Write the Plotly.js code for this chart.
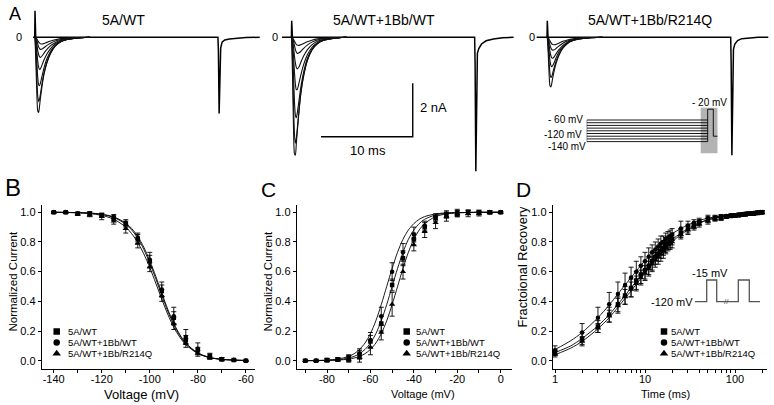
<!DOCTYPE html>
<html><head><meta charset="utf-8">
<script src="https://cdn.plot.ly/plotly-3.0.1.min.js"></script>
<style>html,body{margin:0;padding:0;background:#fff}#chart{width:774px;height:405px}</style>
</head><body><div id="chart"></div>
<script>
// ================= DATA =================
const seriesNames = ['5A/WT', '5A/WT+1Bb/WT', '5A/WT+1Bb/R214Q'];
const seriesSymbols = ['square', 'circle', 'triangle-up'];
const panelATitles = ['5A/WT', '5A/WT+1Bb/WT', '5A/WT+1Bb/R214Q'];

// Panel A: current families (time ms, current nA)
const A_T = [0, 0.1, 0.2, 0.3, 0.4, 0.5, 0.6, 0.8, 1.0, 1.3, 1.7, 2.2, 2.8, 3.5, 4.5, 6.0];
const A1_family = [
  [0, -1.0, -2.1, -2.75, -2.80, -2.55, -2.25, -1.75, -1.35, -0.95, -0.6, -0.33, -0.17, -0.08, -0.03, 0],
  [0, -0.6, -1.5, -2.2, -2.4, -2.3, -2.1, -1.65, -1.3, -0.92, -0.58, -0.33, -0.17, -0.08, -0.03, 0],
  [0, -0.3, -0.9, -1.5, -1.78, -1.8, -1.7, -1.4, -1.12, -0.8, -0.52, -0.3, -0.16, -0.08, -0.03, 0],
  [0, -0.15, -0.5, -0.9, -1.12, -1.2, -1.17, -1.0, -0.83, -0.62, -0.42, -0.25, -0.14, -0.07, -0.03, 0],
  [0, -0.08, -0.25, -0.5, -0.65, -0.73, -0.75, -0.68, -0.58, -0.45, -0.31, -0.2, -0.11, -0.06, -0.02, 0],
  [0, -0.04, -0.12, -0.25, -0.36, -0.42, -0.45, -0.43, -0.38, -0.3, -0.22, -0.14, -0.08, -0.04, -0.02, 0],
  [0, -0.02, -0.06, -0.12, -0.18, -0.22, -0.24, -0.25, -0.23, -0.19, -0.14, -0.09, -0.05, -0.03, -0.01, 0]
];
const A2_family = [
  [0, -1.6, -3.4, -4.35, -4.4, -4.0, -3.55, -2.75, -2.1, -1.45, -0.88, -0.48, -0.24, -0.11, -0.04, 0],
  [0, -1.0, -2.5, -3.6, -3.95, -3.8, -3.45, -2.7, -2.05, -1.42, -0.86, -0.47, -0.23, -0.11, -0.04, 0],
  [0, -0.5, -1.4, -2.4, -2.9, -3.0, -2.85, -2.35, -1.85, -1.3, -0.8, -0.45, -0.22, -0.1, -0.04, 0],
  [0, -0.25, -0.7, -1.3, -1.75, -1.95, -1.95, -1.7, -1.4, -1.02, -0.66, -0.38, -0.2, -0.09, -0.03, 0],
  [0, -0.12, -0.35, -0.7, -0.95, -1.12, -1.18, -1.1, -0.93, -0.7, -0.47, -0.28, -0.15, -0.07, -0.03, 0],
  [0, -0.05, -0.15, -0.3, -0.45, -0.55, -0.6, -0.58, -0.52, -0.41, -0.29, -0.18, -0.1, -0.05, -0.02, 0],
  [0, -0.02, -0.07, -0.14, -0.21, -0.26, -0.29, -0.3, -0.28, -0.23, -0.17, -0.11, -0.06, -0.03, -0.01, 0]
];
const A3_family = [
  [0, -0.6, -1.4, -1.82, -1.85, -1.7, -1.5, -1.18, -0.92, -0.65, -0.41, -0.23, -0.12, -0.06, -0.02, 0],
  [0, -0.35, -0.95, -1.38, -1.5, -1.45, -1.32, -1.07, -0.85, -0.61, -0.39, -0.22, -0.12, -0.06, -0.02, 0],
  [0, -0.18, -0.55, -0.9, -1.06, -1.1, -1.05, -0.9, -0.73, -0.53, -0.35, -0.2, -0.11, -0.05, -0.02, 0],
  [0, -0.1, -0.3, -0.55, -0.7, -0.77, -0.78, -0.7, -0.59, -0.45, -0.3, -0.18, -0.1, -0.05, -0.02, 0],
  [0, -0.05, -0.15, -0.3, -0.4, -0.46, -0.48, -0.46, -0.4, -0.32, -0.22, -0.14, -0.08, -0.04, -0.01, 0],
  [0, -0.02, -0.07, -0.14, -0.2, -0.25, -0.27, -0.28, -0.26, -0.21, -0.15, -0.1, -0.06, -0.03, -0.01, 0]
];
// baseline + capacitive spike + test-pulse current
const A1_baseT = [-0.22, -0.03, 0.0, 0.04, 0.08, 19.95, 20.0, 20.08, 20.15, 20.25, 20.4, 20.7, 21.2, 22.0, 23.0, 24.5];
const A1_baseI = [0, 0, 0.99, 0.1, 0, 0, -0.5, -2.84, -1.2, -0.4, -0.18, -0.1, -0.06, -0.03, -0.01, 0];
const A2_baseT = [-1.06, -0.03, 0.0, 0.04, 0.08, 19.95, 20.0, 20.08, 20.15, 20.25, 20.4, 20.7, 21.2, 22.0, 23.0, 24.2];
const A2_baseI = [0, 0, 0.62, 0.1, 0, 0, -1.0, -5.0, -2.0, -0.6, -0.42, -0.25, -0.13, -0.06, -0.02, 0];
const A3_baseT = [-1.16, -0.03, 0.0, 0.04, 0.08, 20.0, 20.05, 20.13, 20.2, 20.3, 20.45, 20.75, 21.2, 22.0, 23.0, 24.1];
const A3_baseI = [0, 0, 0.62, 0.1, 0, 0, -1.0, -4.4, -1.6, -0.45, -0.25, -0.12, -0.05, -0.02, 0, 0];
// scale bar (10 ms, 2 nA) in panel A2 units
const scaleBarT = [3.2, 13.2, 13.2];
const scaleBarI = [-3.71, -3.71, -1.71];
// voltage protocol inset in A3 (schematic time units, mV)
const protoPrepulseV = [-60, -70, -80, -90, -100, -110, -120, -130, -140];
const protoTimes = [0, 121, 126.6, 131];
const protoTestV = -20;
const protoHoldV = -120;

// Panel B: steady-state inactivation
const B_V = [-140, -135, -130, -125, -120, -115, -110, -105, -100, -95, -90, -85, -80, -75, -70, -65, -60];
const B_sq = [1.0, 1.0, 0.99, 0.99, 0.98, 0.96, 0.92, 0.82, 0.67, 0.47, 0.29, 0.14, 0.07, 0.03, 0.01, 0.005, 0.0];
const B_circ = [1.0, 1.0, 0.99, 0.99, 0.98, 0.97, 0.93, 0.83, 0.68, 0.48, 0.30, 0.16, 0.08, 0.03, 0.01, 0.005, 0.0];
const B_tri = [1.0, 1.0, 0.99, 0.98, 0.97, 0.94, 0.89, 0.79, 0.63, 0.44, 0.25, 0.12, 0.05, 0.02, 0.01, 0.005, 0.0];
const B_sqErr = [0.005, 0.005, 0.01, 0.01, 0.01, 0.015, 0.02, 0.03, 0.04, 0.04, 0.04, 0.03, 0.02, 0.015, 0.01, 0.005, 0.003];
const B_circErr = [0.005, 0.005, 0.01, 0.015, 0.015, 0.015, 0.02, 0.03, 0.05, 0.05, 0.06, 0.05, 0.04, 0.02, 0.01, 0.005, 0.003];
const B_triErr = [0.005, 0.005, 0.01, 0.01, 0.02, 0.02, 0.03, 0.03, 0.03, 0.04, 0.04, 0.03, 0.02, 0.01, 0.01, 0.005, 0.003];
const B_fitV = [-140, -135, -130, -125, -120, -115, -110, -107.5, -105, -102.5, -100, -97.5, -95, -92.5, -90, -87.5, -85, -80, -75, -70, -65, -60];
const B_fitSq = [1.0, 0.999, 0.997, 0.994, 0.985, 0.965, 0.920, 0.880, 0.825, 0.750, 0.658, 0.552, 0.440, 0.333, 0.241, 0.169, 0.115, 0.050, 0.021, 0.009, 0.004, 0.0015];
const B_fitCirc = [1.0, 0.999, 0.998, 0.995, 0.987, 0.969, 0.927, 0.890, 0.837, 0.765, 0.674, 0.568, 0.455, 0.346, 0.251, 0.176, 0.119, 0.052, 0.022, 0.009, 0.004, 0.001];
const B_fitTri = [1.0, 0.999, 0.996, 0.991, 0.979, 0.953, 0.900, 0.855, 0.796, 0.720, 0.627, 0.522, 0.414, 0.312, 0.225, 0.158, 0.108, 0.048, 0.020, 0.009, 0.004, 0.0015];

// Panel C: activation
const C_V = [-90, -85, -80, -75, -70, -65, -60, -55, -50, -45, -40, -35, -30, -25, -20, -15, -10, -5, 0];
const C_circ = [0, 0, 0.005, 0.01, 0.02, 0.05, 0.14, 0.30, 0.60, 0.73, 0.85, 0.91, 0.97, 0.99, 1.0, 1.0, 1.0, 1.0, 1.0];
const C_sq = [0, 0, 0.005, 0.01, 0.015, 0.04, 0.13, 0.25, 0.51, 0.69, 0.82, 0.90, 0.96, 0.98, 0.99, 1.0, 1.0, 1.0, 1.0];
const C_tri = [0, 0, 0, 0.005, 0.01, 0.02, 0.09, 0.19, 0.38, 0.60, 0.78, 0.87, 0.93, 0.97, 0.99, 0.99, 0.99, 1.0, 1.0];
const C_circErr = [0.005, 0.005, 0.01, 0.01, 0.02, 0.03, 0.05, 0.06, 0.06, 0.06, 0.05, 0.03, 0.02, 0.02, 0.02, 0.015, 0.015, 0.01, 0.005];
const C_sqErr = [0.005, 0.005, 0.01, 0.01, 0.02, 0.03, 0.04, 0.05, 0.04, 0.05, 0.04, 0.03, 0.02, 0.02, 0.02, 0.015, 0.01, 0.01, 0.005];
const C_triErr = [0.005, 0.005, 0.01, 0.01, 0.02, 0.03, 0.05, 0.05, 0.08, 0.05, 0.04, 0.04, 0.04, 0.03, 0.02, 0.02, 0.015, 0.01, 0.005];
const C_fitV = [-90, -85, -80, -75, -70, -67.5, -65, -62.5, -60, -57.5, -55, -52.5, -50, -47.5, -45, -42.5, -40, -37.5, -35, -30, -25, -20, -15, -10, -5, 0];
const C_fitCirc = [0.0006, 0.0015, 0.004, 0.011, 0.029, 0.047, 0.076, 0.119, 0.182, 0.269, 0.378, 0.5, 0.622, 0.731, 0.818, 0.881, 0.924, 0.953, 0.971, 0.989, 0.996, 0.998, 0.999, 1.0, 1.0, 1.0];
const C_fitSq = [0.0003, 0.0009, 0.0025, 0.0067, 0.018, 0.029, 0.047, 0.076, 0.119, 0.182, 0.269, 0.378, 0.5, 0.622, 0.731, 0.818, 0.881, 0.924, 0.953, 0.982, 0.993, 0.997, 0.999, 1.0, 1.0, 1.0];
const C_fitTri = [0.0002, 0.0006, 0.0015, 0.0041, 0.011, 0.018, 0.029, 0.047, 0.076, 0.119, 0.182, 0.269, 0.378, 0.5, 0.622, 0.731, 0.818, 0.881, 0.924, 0.971, 0.989, 0.996, 0.998, 0.999, 1.0, 1.0];

// Panel D: recovery from inactivation
const D_t = [1, 2, 3, 4, 5, 6, 7, 8, 9, 10, 11, 12, 13, 14, 15, 16, 17, 18, 19, 20, 25, 30, 35, 40, 50, 60, 70, 80, 90, 100, 110, 120, 130, 140, 150, 160, 170, 180, 190, 200];
const D_circ = [0.07, 0.19, 0.29, 0.38, 0.45, 0.51, 0.56, 0.60, 0.64, 0.67, 0.70, 0.73, 0.75, 0.77, 0.79, 0.80, 0.82, 0.83, 0.84, 0.85, 0.89, 0.91, 0.93, 0.94, 0.96, 0.965, 0.97, 0.975, 0.98, 0.98, 0.985, 0.985, 0.99, 0.99, 0.99, 0.995, 0.995, 1.0, 1.0, 1.0];
const D_sq = [0.055, 0.15, 0.23, 0.31, 0.38, 0.44, 0.49, 0.54, 0.58, 0.61, 0.64, 0.67, 0.70, 0.72, 0.74, 0.76, 0.78, 0.79, 0.80, 0.82, 0.86, 0.89, 0.91, 0.93, 0.95, 0.96, 0.965, 0.97, 0.975, 0.98, 0.98, 0.985, 0.985, 0.99, 0.99, 0.99, 0.995, 0.995, 1.0, 1.0];
const D_tri = [0.045, 0.13, 0.22, 0.30, 0.37, 0.43, 0.48, 0.52, 0.56, 0.59, 0.62, 0.65, 0.68, 0.70, 0.72, 0.74, 0.76, 0.78, 0.79, 0.80, 0.85, 0.88, 0.90, 0.92, 0.94, 0.955, 0.96, 0.97, 0.975, 0.975, 0.98, 0.985, 0.985, 0.99, 0.99, 0.99, 0.995, 0.995, 1.0, 1.0];
const D_circErr = [0.03, 0.06, 0.07, 0.08, 0.08, 0.08, 0.07, 0.07, 0.06, 0.06, 0.06, 0.05, 0.05, 0.05, 0.05, 0.04, 0.04, 0.04, 0.04, 0.04, 0.05, 0.03, 0.02, 0.02, 0.02, 0.015, 0.015, 0.01, 0.01, 0.01, 0.01, 0.01, 0.01, 0.01, 0.01, 0.01, 0.01, 0.01, 0.01, 0.01];
const D_sqErr = [0.02, 0.04, 0.04, 0.05, 0.05, 0.06, 0.06, 0.06, 0.06, 0.06, 0.06, 0.06, 0.05, 0.05, 0.05, 0.05, 0.05, 0.04, 0.04, 0.04, 0.03, 0.03, 0.02, 0.02, 0.02, 0.015, 0.015, 0.01, 0.01, 0.01, 0.01, 0.01, 0.01, 0.01, 0.01, 0.01, 0.01, 0.01, 0.01, 0.01];
const D_triErr = [0.02, 0.03, 0.03, 0.04, 0.05, 0.05, 0.05, 0.05, 0.05, 0.05, 0.05, 0.05, 0.05, 0.05, 0.05, 0.05, 0.04, 0.04, 0.04, 0.04, 0.03, 0.03, 0.02, 0.02, 0.02, 0.015, 0.015, 0.01, 0.01, 0.01, 0.01, 0.01, 0.01, 0.01, 0.01, 0.01, 0.01, 0.01, 0.01, 0.01];
const D_fitT = [1, 1.5, 2, 3, 4, 5, 6, 7, 8, 10, 12, 15, 20, 25, 30, 40, 50, 70, 100, 150, 210];
const D_fitCirc = [0.075, 0.135, 0.19, 0.29, 0.375, 0.45, 0.51, 0.56, 0.605, 0.675, 0.73, 0.79, 0.855, 0.89, 0.915, 0.945, 0.96, 0.975, 0.985, 0.993, 0.998];
const D_fitSq = [0.055, 0.10, 0.15, 0.235, 0.31, 0.38, 0.44, 0.49, 0.535, 0.61, 0.67, 0.74, 0.815, 0.86, 0.89, 0.93, 0.95, 0.97, 0.982, 0.991, 0.997];
const D_fitTri = [0.04, 0.085, 0.13, 0.215, 0.29, 0.36, 0.42, 0.47, 0.515, 0.59, 0.65, 0.72, 0.80, 0.85, 0.88, 0.925, 0.948, 0.968, 0.98, 0.99, 0.996];
// Inset protocol of D (schematic units, mV)
const protoD_t = [5, 16.7, 16.7, 26.7, 26.7, 48.3, 48.3, 59.3, 59.3, 70];
const protoD_v = [-120, -120, -15, -15, -120, -120, -15, -15, -120, -120];

// tick labels
const normTickVals = [0, 0.2, 0.4, 0.6, 0.8, 1.0];
const normTickText = ['0.0', '0.2', '0.4', '0.6', '0.8', '1.0'];
const B_tickVals = [-140, -120, -100, -80, -60];
const B_tickText = ['-140', '-120', '-100', '-80', '-60'];
const C_tickVals = [-80, -60, -40, -20, 0];
const C_tickText = ['-80', '-60', '-40', '-20', '0'];
const D_tickVals = [1, 10, 100];
const D_tickText = ['1', '10', '100'];

// ================= LAYOUT HELPERS =================
const W = 774, H = 405;
const FONT = 'Liberation Sans, Arial, Helvetica, sans-serif';
const fx = p => p / W;
const fy = p => 1 - p / H;
const xdom = (a, b) => [fx(a), fx(b)];
const ydom = (top, bot) => [fy(bot), fy(top)];

const traces = [];
const line = (x, y, xa, ya, opt = {}) => traces.push(Object.assign({
  type: 'scatter', mode: 'lines', x, y, xaxis: xa, yaxis: ya,
  line: {color: '#000', width: 0.9}, hoverinfo: 'skip'
}, opt));

// Panel A traces
[[A1_family, A1_baseT, A1_baseI, 'x', 'y'],
 [A2_family, A2_baseT, A2_baseI, 'x2', 'y2'],
 [A3_family, A3_baseT, A3_baseI, 'x3', 'y3']].forEach(([fam, bt, bi, xa, ya]) => {
  line(bt, bi, xa, ya, {line: {color: '#000', width: 1.5}});
  fam.forEach(f => line(A_T, f, xa, ya, {line: {color: '#111', width: 1.1, shape: 'spline', smoothing: 0.6}}));
});
line(scaleBarT, scaleBarI, 'x2', 'y2', {line: {color: '#000', width: 1.4}});

// Protocol inset A3
const pX = [], pY = [];
protoPrepulseV.forEach(v => { pX.push(protoTimes[0], protoTimes[1], null); pY.push(v, v, null); });
pX.push(protoTimes[0], protoTimes[0], null);
pY.push(protoPrepulseV[0], protoPrepulseV[protoPrepulseV.length - 1], null);
pX.push(protoTimes[1], protoTimes[1], protoTimes[2], protoTimes[2], protoTimes[3]);
pY.push(protoPrepulseV[protoPrepulseV.length - 1], protoTestV, protoTestV, protoHoldV, protoHoldV);
line(pX, pY, 'x7', 'y7', {line: {color: '#000', width: 0.9}, connectgaps: false});

// Protocol inset D
line(protoD_t, protoD_v, 'x8', 'y8', {line: {color: '#555', width: 1.3}});

// Panels B, C, D
const fitStyle = {line: {color: '#000', width: 0.9, shape: 'spline', smoothing: 0.8}};
function dataSeries(x, y, err, sym, xa, ya) {
  traces.push({
    type: 'scatter', mode: 'markers', x, y, xaxis: xa, yaxis: ya, hoverinfo: 'skip',
    marker: {symbol: sym, size: sym === 'triangle-up' ? 5.5 : 4.5, color: '#000', line: {width: 0}},
    error_y: {type: 'data', array: err, visible: true, thickness: 0.9, width: 2.5, color: '#000'}
  });
}
line(B_fitV, B_fitSq, 'x4', 'y4', fitStyle);
line(B_fitV, B_fitCirc, 'x4', 'y4', fitStyle);
line(B_fitV, B_fitTri, 'x4', 'y4', fitStyle);
dataSeries(B_V, B_sq, B_sqErr, seriesSymbols[0], 'x4', 'y4');
dataSeries(B_V, B_circ, B_circErr, seriesSymbols[1], 'x4', 'y4');
dataSeries(B_V, B_tri, B_triErr, seriesSymbols[2], 'x4', 'y4');

line(C_fitV, C_fitSq, 'x5', 'y5', fitStyle);
line(C_fitV, C_fitCirc, 'x5', 'y5', fitStyle);
line(C_fitV, C_fitTri, 'x5', 'y5', fitStyle);
dataSeries(C_V, C_sq, C_sqErr, seriesSymbols[0], 'x5', 'y5');
dataSeries(C_V, C_circ, C_circErr, seriesSymbols[1], 'x5', 'y5');
dataSeries(C_V, C_tri, C_triErr, seriesSymbols[2], 'x5', 'y5');

line(D_fitT, D_fitSq, 'x6', 'y6', fitStyle);
line(D_fitT, D_fitCirc, 'x6', 'y6', fitStyle);
line(D_fitT, D_fitTri, 'x6', 'y6', fitStyle);
dataSeries(D_t, D_sq, D_sqErr, seriesSymbols[0], 'x6', 'y6');
dataSeries(D_t, D_circ, D_circErr, seriesSymbols[1], 'x6', 'y6');
dataSeries(D_t, D_tri, D_triErr, seriesSymbols[2], 'x6', 'y6');

// Legend keys (pixel overlay axis x9/y9)
const legendRowsY = [331.5, 342.5, 353.5];
const legendPanels = [{mx: 56.7, tx: 66.5}, {mx: 406.7, tx: 415.5}, {mx: 664, tx: 669.5}];
const annotations = [];
legendPanels.forEach(p => {
  seriesSymbols.forEach((s, i) => {
    traces.push({type: 'scatter', mode: 'markers', x: [p.mx], y: [legendRowsY[i]], xaxis: 'x9', yaxis: 'y9',
      hoverinfo: 'skip', marker: {symbol: s, size: s === 'triangle-up' ? 7.5 : 6.5, color: '#000', line: {width: 0}}});
    annotations.push({xref: 'paper', yref: 'paper', x: fx(p.tx), y: fy(legendRowsY[i]), xanchor: 'left', yanchor: 'middle',
      text: seriesNames[i], showarrow: false, borderpad: 0, font: {family: FONT, size: 9.5, color: '#000'}});
  });
});

// ================= AXES =================
const hidden = (dom, range, anchor, extra = {}) => Object.assign({domain: dom, range, anchor, visible: false, fixedrange: true}, extra);
const tickFont = {family: FONT, size: 11, color: '#000'};
const realX = (dom, range, anchor, tv, tt, minorVals, extra = {}) => Object.assign({
  domain: dom, range, anchor, showline: true, linecolor: '#000', linewidth: 1,
  ticks: 'outside', ticklen: 3, tickwidth: 1, tickcolor: '#000', tickmode: 'array', tickvals: tv, ticktext: tt,
  ticklabelstandoff: -3,
  minor: {tickmode: 'array', tickvals: minorVals, ticks: 'outside', ticklen: 3, tickwidth: 1, tickcolor: '#000', showgrid: false},
  showgrid: false, zeroline: false, tickfont: tickFont, fixedrange: true
}, extra);
const realY = (dom, anchor) => ({
  domain: dom, range: [-0.056, 1.049], anchor, showline: true, linecolor: '#000', linewidth: 1,
  ticks: 'outside', ticklen: 3, tickwidth: 1, tickcolor: '#000', tickmode: 'array', tickvals: normTickVals, ticktext: normTickText,
  showgrid: false, zeroline: false, tickfont: tickFont, fixedrange: true
});
const yA = ydom(0, 180);
const yARange = [-(180 - 37.3) / 26.8, 37.3 / 26.8];
const yBCD = ydom(205, 369);

const layout = {
  width: W, height: H, margin: {l: 0, r: 0, t: 0, b: 0, pad: 0},
  paper_bgcolor: '#fff', plot_bgcolor: 'rgba(0,0,0,0)', showlegend: false,
  font: {family: FONT, color: '#000'},
  xaxis: hidden(xdom(30, 262), [-(35 - 30) / 9.17, (262 - 35) / 9.17], 'y'),
  yaxis: hidden(yA, yARange, 'x'),
  xaxis2: hidden(xdom(280, 514), [-(291.7 - 280) / 9.17, (514 - 291.7) / 9.17], 'y2'),
  yaxis2: hidden(yA, yARange, 'x2'),
  xaxis3: hidden(xdom(535, 770), [-(547.3 - 535) / 9.17, (770 - 547.3) / 9.17], 'y3'),
  yaxis3: hidden(yA, yARange, 'x3'),
  xaxis4: realX(xdom(41.7, 255), [-145, -56.2], 'y4', B_tickVals, B_tickText, [-130, -110, -90, -70]),
  yaxis4: realY(yBCD, 'x4'),
  xaxis5: realX(xdom(296.7, 511.7), [-93.96, 5.07], 'y5', C_tickVals, C_tickText, [-90, -70, -50, -30, -10]),
  yaxis5: realY(yBCD, 'x5'),
  xaxis6: realX(xdom(552.7, 766.7), [-0.0256, 2.352], 'y6', D_tickVals, D_tickText,
    [2, 3, 4, 5, 6, 7, 8, 9, 20, 30, 40, 50, 60, 70, 80, 90, 200], {type: 'log'}),
  yaxis6: realY(yBCD, 'x6'),
  xaxis7: hidden(xdom(586.7, 717.7), [0, 131], 'y7'),
  yaxis7: hidden(ydom(95, 160), [-208.1, 32.6], 'x7'),
  xaxis8: hidden(xdom(690, 765), [0, 75], 'y8'),
  yaxis8: hidden(ydom(270, 310), [-160.2, 33.4], 'x8'),
  xaxis9: hidden([0, 1], [0, W], 'y9'),
  yaxis9: hidden([0, 1], [H, 0], 'x9'),
  shapes: [
    {type: 'rect', xref: 'x7', yref: 'y7', x0: 114, x1: 131, y0: -14.4, y1: -183, fillcolor: '#b3b3b3', line: {width: 0}, layer: 'below'}
  ],
  annotations
};

const txt = (text, px, py, size, opt = {}) => annotations.push(Object.assign({
  xref: 'paper', yref: 'paper', x: fx(px), y: fy(py), xanchor: 'center', yanchor: 'middle',
  text, showarrow: false, font: {family: FONT, size, color: '#000'}
}, opt));

// Panel letters
txt('A', 15.5, 14.5, 18);
txt('B', 13.3, 187.5, 24);
txt('C', 268, 189.5, 21);
txt('D', 523.7, 189.5, 21);
// Panel A titles
txt(panelATitles[0], 123, 20, 14);
txt(panelATitles[1], 383.5, 20, 14);
txt(panelATitles[2], 650, 20, 14);
// zero labels
txt('0', 19, 37.3, 11);
txt('0', 275, 37.3, 11);
txt('0', 532, 37.3, 11);
// scale bar labels
txt('2 nA', 418, 107.3, 13, {xanchor: 'left'});
txt('10 ms', 368.3, 150.7, 13);
// protocol labels A3
txt('- 60 mV', 584.5, 119, 10, {xanchor: 'right'});
txt('-120 mV', 583.5, 135, 10, {xanchor: 'right'});
txt('-140 mV', 588, 146.5, 10, {xanchor: 'right'});
txt('- 20 mV', 709, 102.7, 10);
// protocol labels D
txt('-15 mV', 710, 273.3, 11);
txt('-120 mV', 695, 301.7, 11, {xanchor: 'right'});
txt('//', 726.7, 301.7, 8, {font: {family: FONT, size: 8, color: '#555'}});
// axis titles
txt('Normalized Current', 12, 281.5, 11.5, {textangle: -90});
txt('Normalized Current', 267, 281.5, 11.5, {textangle: -90});
txt('Fractoional Recovery', 522, 266.5, 12.8, {textangle: -90});
txt('Voltage (mV)', 141, 394, 13);
txt('Voltage (mV)', 423, 394, 11);
txt('Time (ms)', 665, 394, 11);

Plotly.newPlot('chart', traces, layout, {staticPlot: true, displayModeBar: false});
</script></body></html>
